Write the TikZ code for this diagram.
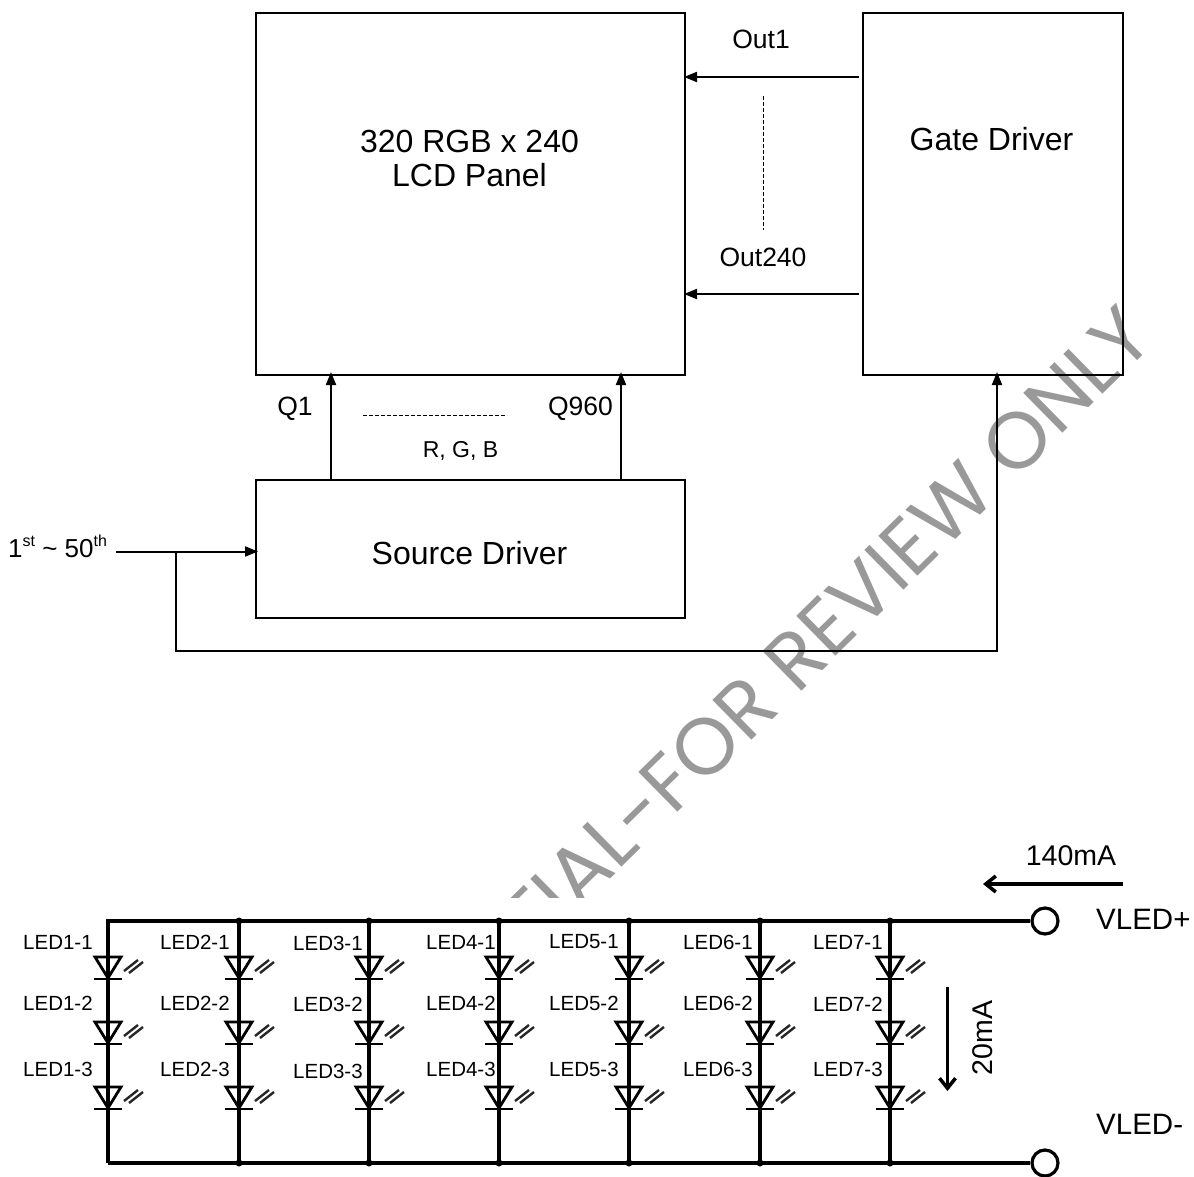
\documentclass[tikz,border=0pt]{standalone}
\usepackage{fontspec}
\setmainfont{Liberation Sans}
\newfontfamily\wmfont{Poppins}
\usetikzlibrary{arrows.meta}
\newcommand{\fs}[1]{\fontsize{#1}{#1}\selectfont}
\tikzset{
  x=1pt,y=-1pt,
  boxline/.style={draw=black,line width=2pt},
  wire/.style={draw=black,line width=2pt},
  flow/.style={wire,-{Triangle[length=13pt,width=10pt]}},
  dashline/.style={draw=black,line width=1pt,dash pattern=on 3.5pt off 2.5pt},
  bigtext/.style={font=\fs{32},align=center,inner sep=0pt},
  midtext/.style={font=\fs{26.5},inner sep=0pt},
  smalltext/.style={font=\fs{23},inner sep=0pt},
  ledtext/.style={font=\fs{20.5},inner sep=0pt,anchor=west},
  rail/.style={draw=black,line width=3.2pt},
  ledpart/.style={draw=black,line width=2.8pt},
  ray/.style={draw=black!85,line width=2.4pt},
  curarrow/.style={draw=black,line width=3.5pt,-{Straight Barb[length=10pt,width=16pt,line width=3.5pt]}},
  term/.style={circle,draw=black,line width=3.2pt,fill=white,minimum size=26pt,inner sep=0pt},
  junct/.style={circle,fill=black,minimum size=7pt,inner sep=0pt}
}
\newcommand{\led}[2]{%
  \draw[ledpart,line join=miter] (#1-13,#2) -- (#1+13,#2) -- (#1,#2+21) -- cycle;
  \draw[ledpart] (#1-14,#2+22) -- (#1+14,#2+22);
  \draw[ray] (#1+16,#2+14) -- (#1+30,#2+3);
  \draw[ray] (#1+21,#2+16) -- (#1+35,#2+5);
}
\begin{document}
\begin{tikzpicture}
\useasboundingbox (0,0) rectangle (1194,1176);
% watermark
\node[font=\wmfont\fs{80},text=black!40,rotate=44.5,inner sep=0pt,anchor=east] (wm) at (1137.5,321.5) {TIAL-FOR REVIEW ONLY};
\fill[white] (85,898) rectangle (1030,1176);
\fill[white] (0,915) rectangle (1194,1176);
% blocks
\node[boxline,minimum width=260pt,minimum height=362pt,inner sep=0pt,anchor=north west] (gate) at (862,12) {};
\node[boxline,minimum width=429pt,minimum height=362pt,inner sep=0pt,anchor=north west] (lcd) at (255,12) {};
\node[bigtext] (lcdtext) at (469.5,158) {320 RGB x 240\\[2pt]LCD Panel};
\node[bigtext] (gatetext) at (991.5,139) {Gate Driver};
\node[boxline,minimum width=429pt,minimum height=138pt,inner sep=0pt,anchor=north west] (src) at (255,479) {};
\node[bigtext] (srctext) at (469.5,553) {Source Driver};
% coordinates
\coordinate (o1s) at (859,77); \coordinate (o1e) at (684,77);
\coordinate (o2s) at (859,294); \coordinate (o2e) at (684,294);
\coordinate (q1s) at (331,479); \coordinate (q1e) at (331,372);
\coordinate (q2s) at (621,479); \coordinate (q2e) at (621,372);
\coordinate (ins) at (116,551.5); \coordinate (ine) at (258,551.5);
\coordinate (br) at (176,551.5); \coordinate (br1) at (176,651); \coordinate (br2) at (997,651); \coordinate (bre) at (997,372);
\coordinate (dv1) at (763,96); \coordinate (dv2) at (763,230);
\coordinate (dh1) at (363,415); \coordinate (dh2) at (507,415);
% connectors
\draw[flow] (o1s) -- (o1e);
\draw[flow] (o2s) -- (o2e);
\draw[flow] (q1s) -- (q1e);
\draw[flow] (q2s) -- (q2e);
\draw[flow] (ins) -- (ine);
\draw[flow] (br) -- (br1) -- (br2) -- (bre);
\draw[dashline] (dv1) -- (dv2);
\draw[dashline] (dh1) -- (dh2);
% labels
\node[midtext] (out1) at (761,39) {Out1};
\node[midtext] (out240) at (763,257) {Out240};
\node[midtext] (q1) at (295,409) {Q1};
\node[midtext] (q960) at (580.5,409) {Q960};
\node[smalltext] (rgb) at (460.5,451) {R, G, B};
\node[font=\fs{26},inner sep=0pt,anchor=west] (inlabel) at (8,546) {1\raisebox{0.42em}{\fs{16}st} \textasciitilde{} 50\raisebox{0.42em}{\fs{16}th}};
% LED array
\coordinate (tl) at (108,921); \coordinate (bl) at (108,1163);
\node[term] (vp) at (1045,921) {};
\node[term] (vm) at (1045,1163) {};
\draw[rail] (bl) -- (tl) -- (vp);
\draw[rail] (bl) -- (vm);
\foreach \cx/\i/\lx/\ya/\yb/\yc in {108/1/23/942/1003/1069,239/2/160/942/1003/1069,369/3/293/943/1004/1071,499/4/426/942/1003/1069,629/5/549/942/1003/1069,760/6/683/942/1003/1069,890/7/813/942/1004/1069}{
  \coordinate (t\i) at (\cx,921);
  \coordinate (b\i) at (\cx,1163);
  \draw[rail] (t\i) -- (b\i);
  \ifnum\i>1
    \node[junct] at (t\i) {};
    \node[junct] at (b\i) {};
  \fi
  \led{\cx}{957}
  \led{\cx}{1022}
  \led{\cx}{1087}
  \node[ledtext] at (\lx,\ya) {LED\i-1};
  \node[ledtext] at (\lx,\yb) {LED\i-2};
  \node[ledtext] at (\lx,\yc) {LED\i-3};
}
% currents
\coordinate (c1s) at (1123,884); \coordinate (c1e) at (983,884);
\coordinate (c2s) at (947.5,987); \coordinate (c2e) at (947.5,1091);
\draw[curarrow] (c1s) -- (c1e);
\draw[curarrow] (c2s) -- (c2e);
\node[font=\fs{28.5},inner sep=0pt] (i1) at (1071,856) {140mA};
\node[font=\fs{28.5},inner sep=0pt,rotate=90] (i2) at (983,1038) {20mA};
\node[font=\fs{29.5},inner sep=0pt,anchor=west] (vpl) at (1096,919) {VLED+};
\node[font=\fs{29.5},inner sep=0pt,anchor=west] (vml) at (1096,1124) {VLED-};
\end{tikzpicture}
\end{document}
